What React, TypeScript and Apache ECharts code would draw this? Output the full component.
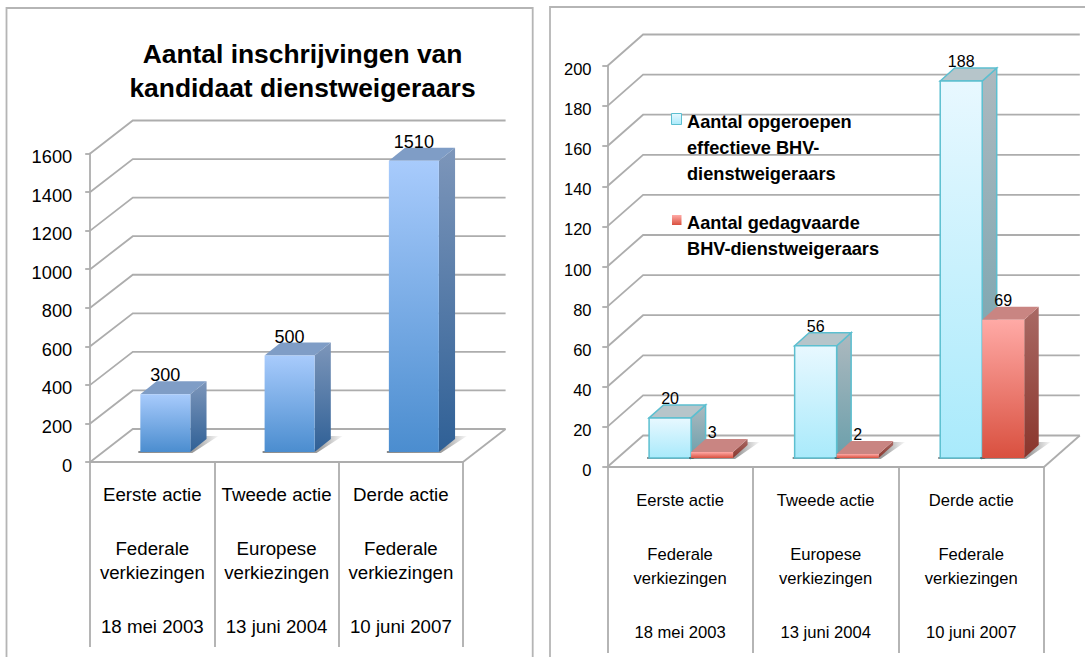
import React, { useEffect, useRef } from "react";
import * as echarts from "echarts";

const categories = [
  ["Eerste actie", "Federale", "verkiezingen", "18 mei 2003"],
  ["Tweede actie", "Europese", "verkiezingen", "13 juni 2004"],
  ["Derde actie", "Federale", "verkiezingen", "10 juni 2007"],
];
const inschrijvingen = [300, 500, 1510];
const opgeroepen = [20, 56, 188];
const gedagvaard = [3, 2, 69];
const leftTicks = [0, 200, 400, 600, 800, 1000, 1200, 1400, 1600];
const rightTicks = [0, 20, 40, 60, 80, 100, 120, 140, 160, 180, 200];
const titleText = "Aantal inschrijvingen van\nkandidaat dienstweigeraars";
const legendOpgeroepen = "Aantal opgeroepen\neffectieve BHV-\ndienstweigeraars";
const legendGedagvaard = "Aantal gedagvaarde\nBHV-dienstweigeraars";

const FONT = '"Liberation Sans", Arial, sans-serif';
const GRID_LINE = "#adadad";
const grad = (a: string, b: string) =>
  new echarts.graphic.LinearGradient(0, 0, 0, 1, [
    { offset: 0, color: a },
    { offset: 1, color: b },
  ]);

const catLabels = categories.map(
  (c) => `{a|${c[0]}}\n{s| }\n{a|${c[1]}}\n{a|${c[2]}}\n{s| }\n{a|${c[3]}}`
);

// back wall and floor, built from the axis scale
function wallSeries(ticks: number[], idx: number, dx: number, dy: number) {
  return {
    type: "custom",
    xAxisIndex: idx,
    yAxisIndex: idx,
    silent: true,
    z: 1,
    encode: { x: 0, y: 1 },
    data: ticks.map((t) => [0, t]),
    renderItem: (_: any, api: any) => {
      const v = api.value(1);
      const p = api.coord([0, v]);
      const band = api.size([1, 0])[0];
      const xl = p[0] - band / 2;
      const xr = xl + band * 3;
      const lineStyle = { stroke: GRID_LINE, lineWidth: 1.8, fill: "none" };
      const children: any[] = [
        {
          type: "polyline",
          shape: { points: [[xl, p[1]], [xl + dx, p[1] - dy], [xr + dx, p[1] - dy]] },
          style: lineStyle,
        },
      ];
      if (v === 0) {
        children.push({
          type: "line",
          shape: { x1: xr, y1: p[1], x2: xr + dx, y2: p[1] - dy },
          style: lineStyle,
        });
      }
      return { type: "group", children };
    },
  };
}

interface BarLook {
  name: string;
  idx: number;
  values: number[];
  from: number; // left edge relative to the band centre
  width: number;
  lift: number;
  depth: number;
  rise: number;
  front: [string, string];
  side: [string, string];
  top: string;
  stroke?: string;
  labelSize: number;
  labelGap: number;
  z: number;
}

function barSeries(b: BarLook) {
  return {
    type: "custom",
    name: b.name,
    xAxisIndex: b.idx,
    yAxisIndex: b.idx,
    z: b.z,
    encode: { x: 0, y: 1 },
    data: b.values.map((v, i) => [i, v]),
    renderItem: (_: any, api: any) => {
      const pt = api.coord([api.value(0), api.value(1)]);
      const p0 = api.coord([api.value(0), 0]);
      const x0 = pt[0] + b.from;
      const x1 = x0 + b.width;
      const base = p0[1] - b.lift;
      const top = pt[1] - b.lift;
      const edge = b.stroke ? { stroke: b.stroke, lineWidth: 1.5 } : {};
      return {
        type: "group",
        children: [
          {
            type: "polygon",
            shape: {
              points: [
                [x0 - 2, base + 1],
                [x1 + 2, base + 1],
                [x1 + b.depth + 12, base - b.rise - 3],
                [x1 + b.depth, base - b.rise - 3],
                [x1 - 2, base - 1],
                [x0 - 2, base - 1],
              ],
            },
            style: {
              fill: new echarts.graphic.LinearGradient(0, 0, 1, 0, [
                { offset: 0, color: "rgba(60,60,60,0.6)" },
                { offset: 0.7, color: "rgba(60,60,60,0.5)" },
                { offset: 1, color: "rgba(60,60,60,0.03)" },
              ]),
            },
          },
          {
            type: "polygon",
            shape: {
              points: [
                [x1, top],
                [x1 + b.depth, top - b.rise],
                [x1 + b.depth, base - b.rise],
                [x1, base],
              ],
            },
            style: { fill: grad(b.side[0], b.side[1]), ...edge },
          },
          {
            type: "polygon",
            shape: {
              points: [
                [x0, top],
                [x0 + b.depth, top - b.rise],
                [x1 + b.depth, top - b.rise],
                [x1, top],
              ],
            },
            style: { fill: b.top, ...edge },
          },
          {
            type: "rect",
            shape: { x: x0, y: top, width: b.width, height: base - top },
            style: { fill: grad(b.front[0], b.front[1]), ...edge },
          },
          {
            type: "text",
            x: (x0 + x1) / 2,
            y: top - b.labelGap,
            z2: 50,
            style: {
              text: String(api.value(1)),
              fill: "#000",
              font: `${b.labelSize}px ${FONT}`,
              align: "center",
              verticalAlign: "middle",
            },
          },
        ],
      };
    },
  };
}

function yAxis(idx: number, max: number, interval: number, size: number, margin: number) {
  return {
    type: "value",
    gridIndex: idx,
    min: 0,
    max,
    interval,
    splitLine: { show: false },
    axisLine: { show: true, lineStyle: { color: GRID_LINE, width: 1.8 } },
    axisTick: { show: true, length: 5, lineStyle: { color: GRID_LINE, width: 1.8 } },
    axisLabel: {
      color: "#000",
      margin,
      showMinLabel: true,
      showMaxLabel: true,
      formatter: (v: number) => `{v|${v}}`,
      rich: {
        v: { fontFamily: FONT, fontSize: size, color: "#000", padding: [6, 0, 0, 0] },
      },
    },
  };
}

function xAxis(idx: number, size: number, margin: number, tick: number) {
  return {
    type: "category",
    gridIndex: idx,
    data: catLabels,
    axisLine: { show: true, lineStyle: { color: GRID_LINE, width: 1.8 } },
    axisTick: { show: true, length: tick, lineStyle: { color: GRID_LINE, width: 1.8 } },
    axisLabel: {
      interval: 0,
      margin,
      color: "#000",
      rich: {
        a: { fontFamily: FONT, fontSize: size, lineHeight: 24, color: "#000", align: "center" },
        s: { fontFamily: FONT, fontSize: 10, lineHeight: 30, color: "#fff", align: "center" },
      },
    },
  };
}

const frameStyle = { stroke: "#b5b5b5", lineWidth: 1.8, fill: "none" };
const legendFont = `bold 18.2px ${FONT}`;

export default function App() {
  const ref = useRef<HTMLDivElement>(null);
  useEffect(() => {
    const chart = echarts.init(ref.current!, undefined, { renderer: "svg" });
    chart.setOption({
      animation: false,
      backgroundColor: "#fff",
      title: {
        text: titleText,
        left: 297.5,
        top: 32,
        textAlign: "center",
        textStyle: { fontFamily: FONT, fontSize: 26.4, fontWeight: "bold", color: "#000", lineHeight: 34 },
      },
      grid: [
        { left: 90.2, top: 153.5, width: 372.8, height: 308.5 },
        { left: 607.3, top: 66, width: 436.7, height: 401 },
      ],
      xAxis: [xAxis(0, 18.7, 20, 185), xAxis(1, 16.6, 21, 186)],
      yAxis: [yAxis(0, 1600, 200, 18.25, 18), yAxis(1, 200, 20, 16.5, 15.8)],
      series: [
        wallSeries(leftTicks, 0, 42.6, 33),
        wallSeries(rightTicks, 1, 35.8, 31.5),
        barSeries({
          name: "Aantal inschrijvingen",
          idx: 0,
          values: inschrijvingen,
          from: -12,
          width: 50,
          lift: 10,
          depth: 16.2,
          rise: 13,
          front: ["#a8cbfc", "#4b8dcf"],
          side: ["#7d96ba", "#2f6096"],
          top: "#7f9dc6",
          labelSize: 18,
          labelGap: 19,
          z: 3,
        }),
        barSeries({
          name: "Aantal opgeroepen effectieve BHV-dienstweigeraars",
          idx: 1,
          values: opgeroepen,
          from: -31,
          width: 42,
          lift: 9,
          depth: 14.5,
          rise: 13,
          front: ["#e8f8ff", "#a9eafb"],
          side: ["#adb9bf", "#6a9fab"],
          top: "#b6c5ca",
          stroke: "#5cbfd0",
          labelSize: 16,
          labelGap: 19.5,
          z: 3,
        }),
        barSeries({
          name: "Aantal gedagvaarde BHV-dienstweigeraars",
          idx: 1,
          values: gedagvaard,
          from: 11,
          width: 42,
          lift: 9,
          depth: 14.5,
          rise: 13,
          front: ["#ffaaa6", "#d9503f"],
          side: ["#a96a65", "#8a352c"],
          top: "#c98582",
          labelSize: 16,
          labelGap: 19.5,
          z: 4,
        }),
      ],
      graphic: [
        { type: "polyline", silent: true, z: 0, shape: { points: [[6.5, 657], [6.5, 8], [532.7, 8], [532.7, 657]] }, style: frameStyle },
        { type: "polyline", silent: true, z: 0, shape: { points: [[550, 657], [550, 7], [1085, 7]] }, style: frameStyle },
        {
          type: "rect",
          z: 10,
          shape: { x: 671.5, y: 113.5, width: 10, height: 11 },
          style: { fill: grad("#e8f8ff", "#a9eafb"), stroke: "#5cbfd0", lineWidth: 1 },
        },
        {
          type: "text",
          z: 10,
          x: 687,
          y: 109,
          style: { text: legendOpgeroepen, font: legendFont, fill: "#000", lineHeight: 26 },
        },
        {
          type: "rect",
          z: 10,
          shape: { x: 672, y: 215, width: 9.5, height: 10 },
          style: { fill: grad("#ffaaa6", "#d9503f") },
        },
        {
          type: "text",
          z: 10,
          x: 687,
          y: 210,
          style: { text: legendGedagvaard, font: legendFont, fill: "#000", lineHeight: 26 },
        },
      ],
    });
    return () => chart.dispose();
  }, []);
  return <div ref={ref} style={{ position: "fixed", left: 0, top: 0, width: 1085, height: 657 }} />;
}
